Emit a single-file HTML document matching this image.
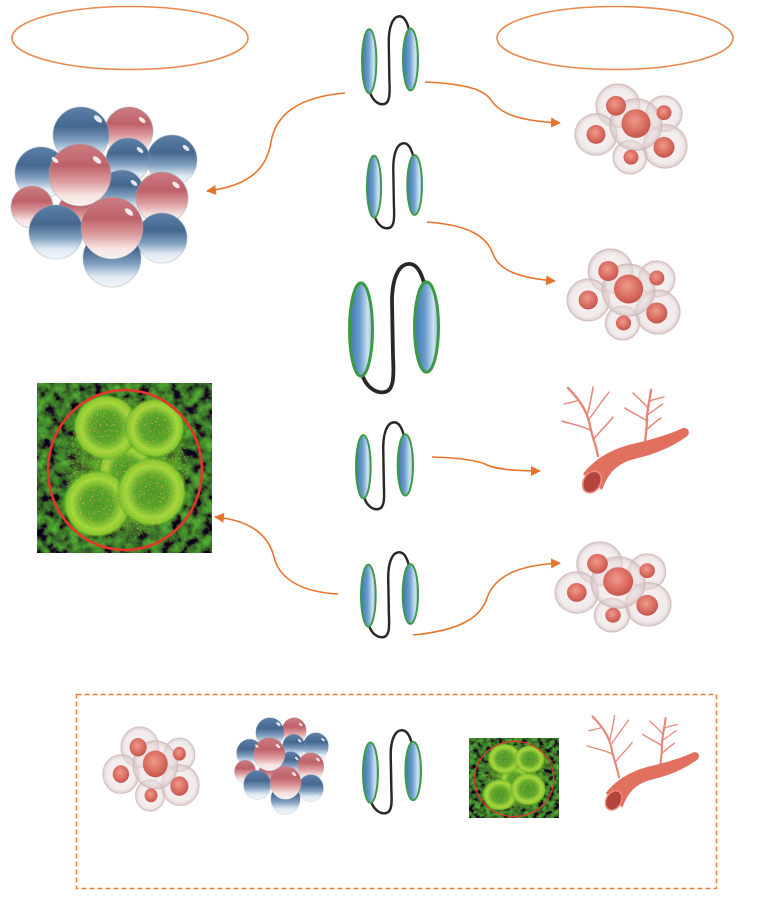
<!DOCTYPE html>
<html><head><meta charset="utf-8"><style>
html,body{margin:0;padding:0;background:#fff;}
svg{display:block;}
</style></head><body>
<svg width="763" height="897" viewBox="0 0 763 897" xmlns="http://www.w3.org/2000/svg">
<defs>
  <linearGradient id="ovg" x1="0" y1="0" x2="1" y2="0">
    <stop offset="0" stop-color="#3f75ad"/>
    <stop offset="0.45" stop-color="#6a9dcc"/>
    <stop offset="0.8" stop-color="#cfe3f2"/>
    <stop offset="1" stop-color="#8fb5da"/>
  </linearGradient>
  <linearGradient id="gb" x1="0" y1="0" x2="0" y2="1">
    <stop offset="0" stop-color="#5d80a8"/>
    <stop offset="0.35" stop-color="#45688f"/>
    <stop offset="0.6" stop-color="#809fc0"/>
    <stop offset="0.82" stop-color="#e0eaf3"/>
    <stop offset="1" stop-color="#f3f7fa"/>
  </linearGradient>
  <linearGradient id="gp" x1="0" y1="0" x2="0" y2="1">
    <stop offset="0" stop-color="#cc7d82"/>
    <stop offset="0.35" stop-color="#bf6169"/>
    <stop offset="0.6" stop-color="#dc9b9d"/>
    <stop offset="0.82" stop-color="#f6e2e1"/>
    <stop offset="1" stop-color="#fbf3f2"/>
  </linearGradient>
  <radialGradient id="nuc" cx="0.45" cy="0.4" r="0.6">
    <stop offset="0" stop-color="#ee9a8c"/>
    <stop offset="0.6" stop-color="#dc6f63"/>
    <stop offset="1" stop-color="#c4554c"/>
  </radialGradient>
  <radialGradient id="cellg" cx="0.5" cy="0.5" r="0.5">
    <stop offset="0" stop-color="#efe6e6" stop-opacity="0.45"/>
    <stop offset="0.8" stop-color="#e6dada" stop-opacity="0.55"/>
    <stop offset="1" stop-color="#d3bfbf" stop-opacity="0.8"/>
  </radialGradient>
  <radialGradient id="gcell" cx="0.5" cy="0.5" r="0.5">
    <stop offset="0" stop-color="#4a9526"/>
    <stop offset="0.45" stop-color="#5aa62a"/>
    <stop offset="0.72" stop-color="#a4d83c"/>
    <stop offset="0.88" stop-color="#86c82e"/>
    <stop offset="1" stop-color="#2f8a1e" stop-opacity="0"/>
  </radialGradient>
  <radialGradient id="gglow" cx="0.5" cy="0.5" r="0.5">
    <stop offset="0" stop-color="#6fb52e" stop-opacity="0.9"/>
    <stop offset="0.75" stop-color="#5aa028" stop-opacity="0.6"/>
    <stop offset="1" stop-color="#2c6a1a" stop-opacity="0"/>
  </radialGradient>
  <filter id="gnoise" x="0" y="0" width="1" height="1">
    <feTurbulence type="fractalNoise" baseFrequency="0.09" numOctaves="3" seed="7"/>
    <feColorMatrix type="matrix" values="0.2 0 0 0 -0.05  1.15 0 0 0 -0.38  0.05 0 0 0 0  0 0 0 0 1"/>
  </filter>
  <filter id="rnoise" x="0" y="0" width="1" height="1">
    <feTurbulence type="fractalNoise" baseFrequency="0.6" numOctaves="1" seed="3"/>
    <feColorMatrix type="matrix" values="0 0 0 0 0.85  0 0 0 0 0.45  0 0 0 0 0.1  7 0 0 0 -4.2"/>
  </filter>
  <clipPath id="gclip"><ellipse cx="90" cy="85" rx="62" ry="70"/></clipPath>
  <marker id="ah" viewBox="0 0 10 10" refX="9" refY="5" markerWidth="10" markerHeight="10" markerUnits="userSpaceOnUse" orient="auto">
    <path d="M0 0 L10 5 L0 10 z" fill="#e8742c"/>
  </marker>

  <symbol id="mol" viewBox="0 0 92 134" preserveAspectRatio="none">
    <path d="M14 113 C18 126 28 133 37 131 C46 129 46 115 45 95 L44 40 C44 18 50 3 60 2 C68 1 73 10 76 21" fill="none" stroke="#2b2725" stroke-width="3.8" stroke-linecap="round"/>
    <ellipse cx="13" cy="68" rx="11.5" ry="47" fill="url(#ovg)" stroke="#3c9a45" stroke-width="3"/>
    <ellipse cx="78.5" cy="65.5" rx="12" ry="45.5" fill="url(#ovg)" stroke="#3c9a45" stroke-width="3"/>
  </symbol>

  <symbol id="cells" viewBox="0 0 114 93" preserveAspectRatio="none">
    <g stroke="#d0b8b8" stroke-width="1.2" stroke-opacity="0.8" fill="url(#cellg)">
      <circle cx="44" cy="23" r="22"/>
      <circle cx="90" cy="31" r="18"/>
      <circle cx="22" cy="52" r="21"/>
      <circle cx="91" cy="64" r="22"/>
      <circle cx="56" cy="75" r="17"/>
      <circle cx="62" cy="42" r="26"/>
    </g>
    <g fill="url(#nuc)">
      <circle cx="42" cy="23" r="10"/>
      <circle cx="90" cy="30" r="7.5"/>
      <circle cx="22" cy="52" r="9.5"/>
      <circle cx="90" cy="65" r="10.5"/>
      <circle cx="57" cy="75" r="7.5"/>
      <circle cx="62" cy="41" r="14.5"/>
    </g>
  </symbol>

  <symbol id="balls" viewBox="8 104 192 184" preserveAspectRatio="none">
    <g stroke="#9aa6b4" stroke-opacity="0.45" stroke-width="1">
      <circle cx="129" cy="131" r="24" fill="url(#gp)"/>
      <circle cx="81" cy="135" r="28" fill="url(#gb)"/>
      <circle cx="172" cy="160" r="25" fill="url(#gb)"/>
      <circle cx="128" cy="160" r="22" fill="url(#gb)"/>
      <circle cx="41" cy="173" r="26" fill="url(#gb)"/>
      <circle cx="32" cy="207" r="21" fill="url(#gp)"/>
      <circle cx="122" cy="192" r="22" fill="url(#gb)"/>
      <circle cx="80" cy="212" r="22" fill="url(#gp)"/>
      <circle cx="162" cy="198" r="26" fill="url(#gp)"/>
      <circle cx="80" cy="175" r="31" fill="url(#gp)"/>
      <circle cx="112" cy="258" r="29" fill="url(#gb)"/>
      <circle cx="56" cy="232" r="27" fill="url(#gb)"/>
      <circle cx="162" cy="238" r="25" fill="url(#gb)"/>
      <circle cx="112" cy="228" r="31" fill="url(#gp)"/>
    </g>
    <g fill="#ffffff" fill-opacity="0.85">
      <ellipse cx="98" cy="119" rx="5" ry="2.5" transform="rotate(40 98 119)"/>
      <ellipse cx="142" cy="120" rx="4" ry="2" transform="rotate(40 142 120)"/>
      <ellipse cx="186" cy="148" rx="4" ry="2" transform="rotate(40 186 148)"/>
      <ellipse cx="140" cy="150" rx="4" ry="2" transform="rotate(40 140 150)"/>
      <ellipse cx="97" cy="160" rx="5" ry="2.5" transform="rotate(40 97 160)"/>
      <ellipse cx="176" cy="185" rx="4.5" ry="2.2" transform="rotate(40 176 185)"/>
      <ellipse cx="134" cy="183" rx="4" ry="2" transform="rotate(40 134 183)"/>
      <ellipse cx="129" cy="212" rx="5" ry="2.5" transform="rotate(40 129 212)"/>
      <ellipse cx="55" cy="160" rx="4" ry="2" transform="rotate(40 55 160)"/>
    </g>
  </symbol>

  <symbol id="vessel" viewBox="556 383 134 112" preserveAspectRatio="none">
    <g fill="none" stroke="#e58676" stroke-linecap="round">
      <path d="M598 456 C596 445 592 436 590 426 C588 412 580 400 568 388" stroke-width="2.4"/>
      <path d="M590 430 C580 425 570 424 562 421" stroke-width="1.5"/>
      <path d="M593 440 C600 431 607 425 613 417" stroke-width="1.5"/>
      <path d="M588 413 C590 403 592 395 593 387" stroke-width="1.5"/>
      <path d="M590 418 C597 408 603 400 609 392" stroke-width="1.4"/>
      <path d="M579 400 C574 402 569 403 564 404" stroke-width="1.3"/>
      <path d="M644 449 C646 436 647 426 647 416 C648 406 650 398 651 390" stroke-width="2.4"/>
      <path d="M647 421 C640 416 632 413 625 408" stroke-width="1.5"/>
      <path d="M646 430 C652 425 656 421 661 418" stroke-width="1.5"/>
      <path d="M648 408 C643 402 638 398 633 393" stroke-width="1.4"/>
      <path d="M650 401 C655 399 660 398 664 397" stroke-width="1.4"/>
      <path d="M647 415 C655 410 659 406 663 404" stroke-width="1.3"/>
    </g>
    <path d="M583 474 C594 459 612 449 632 444 C650 440 668 435 683 428 C689 427 691 434 686 437 C672 447 655 454 638 458 C620 462 609 470 602 490 Z" fill="#e2705f"/>
    <ellipse cx="592" cy="482" rx="8.5" ry="11.5" transform="rotate(30 592 482)" fill="#b3453c" stroke="#ef8c7c" stroke-width="1.6"/>
  </symbol>

  <symbol id="gimg" viewBox="0 0 175 170" preserveAspectRatio="none">
    <rect x="0" y="0" width="175" height="170" fill="#0d2a0e"/>
    <rect x="0" y="0" width="175" height="170" filter="url(#gnoise)" opacity="0.9"/>
    <ellipse cx="92" cy="86" rx="62" ry="72" fill="url(#gglow)"/>
    <g>
      <circle cx="89" cy="87" r="28" fill="url(#gcell)"/>
      <circle cx="69" cy="44" r="34" fill="url(#gcell)"/>
      <circle cx="118" cy="45" r="31" fill="url(#gcell)"/>
      <circle cx="60" cy="121" r="35" fill="url(#gcell)"/>
      <circle cx="115" cy="109" r="36" fill="url(#gcell)"/>
    </g>
    <rect x="0" y="0" width="175" height="170" filter="url(#rnoise)" clip-path="url(#gclip)" opacity="0.8"/>
    <ellipse cx="88" cy="87" rx="77" ry="80" fill="none" stroke="#e2372b" stroke-width="2.6"/>
  </symbol>
</defs>

<rect width="763" height="897" fill="#ffffff"/>

<!-- top ellipses -->
<ellipse cx="130" cy="38" rx="118" ry="31.5" fill="none" stroke="#e9894d" stroke-width="1.6"/>
<ellipse cx="615" cy="38" rx="118" ry="31.5" fill="none" stroke="#e9894d" stroke-width="1.6"/>

<!-- molecules -->
<use href="#mol" x="361" y="15" width="58" height="91"/>
<use href="#mol" x="366" y="142" width="57" height="88"/>
<use href="#mol" x="348" y="262" width="92" height="133"/>
<use href="#mol" x="355" y="421" width="59" height="90"/>
<use href="#mol" x="360" y="551" width="59" height="88"/>

<!-- arrows -->
<g fill="none" stroke="#e8742c" stroke-width="1.6" marker-end="url(#ah)">
  <path d="M345 93 C300 97 276 113 271 142 C267 168 250 186 207 191"/>
  <path d="M425 82 C468 84 484 90 491 100 C500 114 520 121 560 123"/>
  <path d="M427 222 C470 225 487 237 493 254 C499 270 518 278 555 281"/>
  <path d="M432 457 C465 458 478 461 485 464 C492 468 510 471 540 471"/>
  <path d="M338 594 C300 592 279 578 274 557 C268 533 248 520 215 517"/>
  <path d="M413 635 C455 631 480 620 487 598 C495 575 520 565 560 563"/>
</g>

<!-- right side figures -->
<use href="#cells" x="574" y="83" width="114" height="92"/>
<use href="#cells" x="566" y="248" width="115" height="93"/>
<use href="#vessel" x="556" y="383" width="134" height="112"/>
<use href="#cells" x="554" y="541" width="118" height="92"/>

<!-- left side figures -->
<use href="#balls" x="8" y="104" width="192" height="184"/>
<use href="#gimg" x="37" y="383" width="175" height="170"/>

<!-- legend box -->
<rect x="76.5" y="694.5" width="640" height="194" fill="none" stroke="#e8803a" stroke-width="1.5" stroke-dasharray="5 3"/>
<use href="#cells" x="102" y="726" width="98" height="86"/>
<use href="#balls" x="233" y="716" width="97" height="99"/>
<use href="#mol" x="362" y="729" width="60" height="86"/>
<use href="#gimg" x="469" y="738" width="90" height="80"/>
<use href="#vessel" x="582" y="712" width="118" height="100"/>
</svg>
</body></html>
